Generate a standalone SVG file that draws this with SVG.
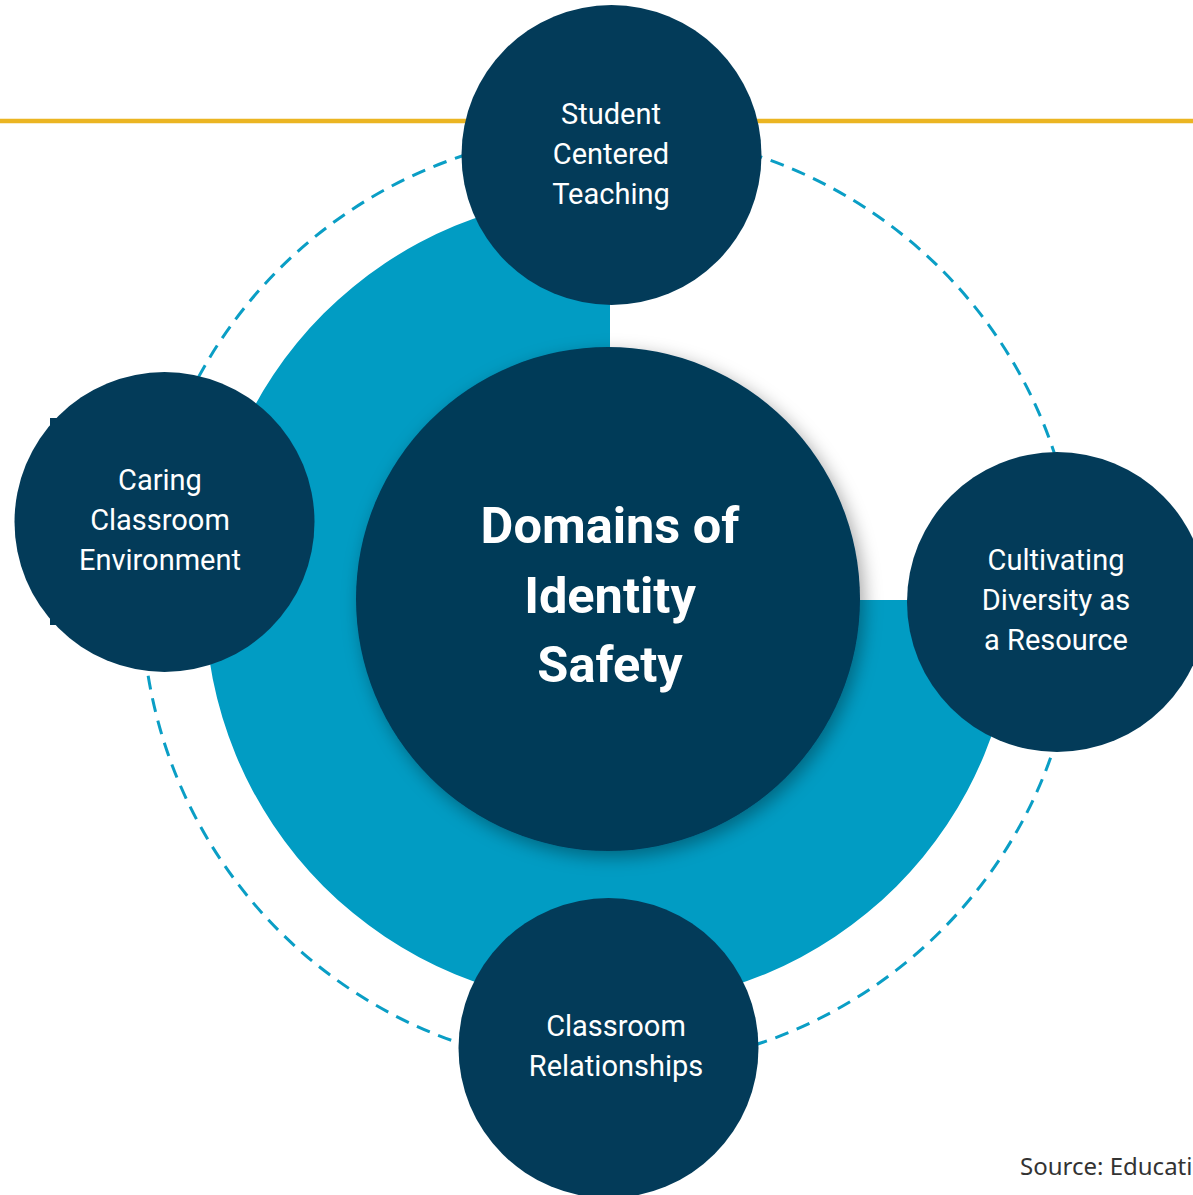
<svg xmlns="http://www.w3.org/2000/svg" width="1193" height="1195" viewBox="0 0 1193 1195">
<style>
.node{fill:#033B59}
.lbl{font-family:Roboto,"Liberation Sans",sans-serif;font-size:29px;fill:#FFFFFF;text-anchor:middle}
.title{font-family:Roboto,"Liberation Sans",sans-serif;font-size:50.5px;font-weight:700;fill:#FFFFFF;text-anchor:middle}
.src{font-family:"Noto Sans","Open Sans",sans-serif;font-size:24px;fill:#333333}
</style>
<defs>
<filter id="sh" x="-20%" y="-20%" width="140%" height="140%">
<feDropShadow dx="4" dy="6" stdDeviation="9" flood-color="#000" flood-opacity="0.35"/>
</filter>
</defs>
<rect width="1193" height="1195" fill="#FFFFFF"/>
<line x1="0" y1="121" x2="1193" y2="121" stroke="#EBB522" stroke-width="4.5"/>
<g id="connectors">
<circle cx="610" cy="600" r="468" fill="none" stroke="#0A9EC5" stroke-width="3" stroke-dasharray="14 9"/>
</g>
<path id="ring" d="M610,600 L610,195 A405,405 0 1,0 1015,600 Z" fill="#019CC3"/>
<g id="center">
<circle class="node" cx="608" cy="599" r="252" filter="url(#sh)"/>
<text class="title" x="610" y="543">Domains of</text>
<text class="title" x="610" y="613">Identity</text>
<text class="title" x="610" y="682">Safety</text>
</g>
<g id="top">
<circle class="node" cx="611.5" cy="155" r="150"/>
<text class="lbl" x="611" y="124">Student</text>
<text class="lbl" x="611" y="164">Centered</text>
<text class="lbl" x="611" y="204">Teaching</text>
</g>
<g id="left">
<rect class="node" x="50" y="418" width="200" height="207"/>
<circle class="node" cx="164.5" cy="522" r="150"/>
<text class="lbl" x="160" y="490">Caring</text>
<text class="lbl" x="160" y="530">Classroom</text>
<text class="lbl" x="160" y="570">Environment</text>
</g>
<g id="right">
<circle class="node" cx="1057" cy="602" r="150"/>
<text class="lbl" x="1056" y="570">Cultivating</text>
<text class="lbl" x="1056" y="610">Diversity as</text>
<text class="lbl" x="1056" y="650">a Resource</text>
</g>
<g id="bottom">
<circle class="node" cx="608.5" cy="1048" r="150"/>
<text class="lbl" x="616" y="1036">Classroom</text>
<text class="lbl" x="616" y="1076">Relationships</text>
</g>
<text class="src" x="1020" y="1175">Source: Educati</text>
</svg>
